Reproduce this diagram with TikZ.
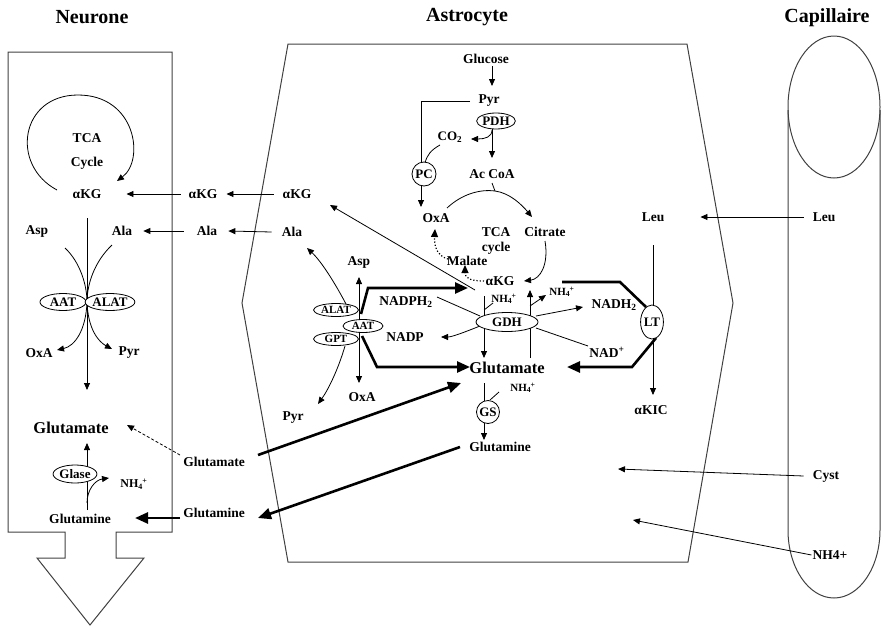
\documentclass[tikz,border=0pt]{standalone}
\usepackage{fontspec}
\setmainfont{Liberation Serif}
\usetikzlibrary{arrows.meta,shapes.geometric}
\newcommand{\nhf}{NH\textsubscript{4}\kern-0.5pt\textsuperscript{+}}
\begin{document}
\begin{tikzpicture}[x=1pt,y=-1pt,
 lab/.style={font=\fontsize{13.5}{15}\selectfont\bfseries, inner sep=1pt},
 big/.style={font=\fontsize{16.5}{18}\selectfont\bfseries, inner sep=1pt},
 ttl/.style={font=\fontsize{20}{24}\selectfont\bfseries, inner sep=1pt},
 sm/.style={font=\fontsize{11}{12}\selectfont\bfseries, inner sep=0pt},
 enz/.style={draw, ellipse, fill=white, inner sep=0pt, line width=0.8pt,
   font=\fontsize{13}{14}\selectfont\bfseries},
 enzs/.style={enz, font=\fontsize{11}{12}\selectfont\bfseries},
 ln/.style={line width=0.8pt},
 arr/.style={line width=0.8pt, -{Triangle[length=7pt,width=6pt]}},
 darr/.style={line width=0.8pt, {Triangle[length=7pt,width=6pt]}-{Triangle[length=7pt,width=6pt]}},
 dotarr/.style={line width=1.2pt, dotted, -{Triangle[length=8pt,width=7pt]}},
 thk/.style={line width=2.6pt, -{Triangle[length=13pt,width=11pt]}},
 thkl/.style={line width=2.6pt},
 wall/.style={line width=1pt, draw=black!75},
]
\useasboundingbox (0,0) rectangle (884,627);

% ---------- titles
\node[ttl] (tN) at (92,17) {Neurone};
\node[ttl] (tA) at (467,17) {Astrocyte};
\node[ttl] (tC) at (827,18) {Capillaire};

% ---------- compartments
\draw[wall] (65,532) -- (8,532) -- (8,52) -- (172,52) -- (172,532) -- (116,532)
  -- (116,558) -- (144,558) -- (90,625) -- (37,558) -- (65,558) -- cycle;
\draw[wall] (288,44) -- (687,44) -- (733,303) -- (688,562) -- (288,562) -- (242,303) -- cycle;
\draw[wall] (834,107) ellipse [x radius=46pt, y radius=71pt];
\draw[wall] (788,110) -- (788,530) arc[start angle=180, end angle=360, x radius=46pt, y radius=68pt] -- (880,110);

% ---------- neurone
\node[lab] (nTCA) at (87,138) {TCA};
\node[lab] (nCyc) at (87,163) {Cycle};
\node[lab] (nKG) at (87,194) {αKG};
\node[lab] (nAsp) at (37,231) {Asp};
\node[lab] (nAla) at (122,231) {Ala};
\node[lab] (nOxA) at (39,353) {OxA};
\node[lab] (nPyr) at (129,353) {Pyr};
\node[big] (nGlu) at (71,428) {Glutamate};
\node[lab] (nGln) at (80,519) {Glutamine};
\node[sm, font=\fontsize{12}{13}\selectfont\bfseries] (nNH) at (134,484) {\nhf};

\coordinate (cyA) at (57,190);
\coordinate (cyB) at (117,181);
\draw[arr] (cyA) .. controls (10,165) and (20,95) .. (78,95) .. controls (136,95) and (145,160) .. (cyB);

\coordinate (nj) at (87,302);
\coordinate (nAspC) at (65,248);
\coordinate (nAlaC) at (112,245);
\coordinate (nTop) at (87,218);
\coordinate (nBot) at (87,390);
\coordinate (nOxT) at (57,350);
\coordinate (nPyT) at (112,349);
\draw[arr] (nTop) -- (nBot);
\draw[ln] (nAspC) .. controls (80,262) and (87,285) .. (nj);
\draw[ln] (nAlaC) .. controls (94,262) and (87,285) .. (nj);
\draw[arr] (nj) .. controls (86,330) and (75,346) .. (nOxT);
\draw[arr] (nj) .. controls (88,330) and (99,342) .. (nPyT);
\node[enz, minimum width=46pt, minimum height=17pt] (aat) at (63,302) {AAT};
\node[enz, minimum width=46pt, minimum height=17pt] (alat) at (110,302) {ALAT};

\coordinate (gA) at (87,510);
\coordinate (gB) at (87,443);
\coordinate (gC) at (87,503);
\coordinate (gD) at (109,478);
\draw[arr] (gA) -- (gB);
\draw[arr] (gC) .. controls (87,490) and (95,480) .. (gD);
\node[enz, minimum width=40pt, minimum height=18pt] (glase) at (75,474) {Glase};

% ---------- between neurone and astrocyte
\node[lab] (mKG) at (203,194) {αKG};
\node[lab] (mAla) at (207,231) {Ala};
\node[lab] (mGlu) at (214,462) {Glutamate};
\node[lab] (mGln) at (214,513) {Glutamine};
\draw[arr] ([xshift=-7pt]mKG.west) -- ([xshift=24pt]nKG.east);
\draw[arr] ([xshift=-12pt]mAla.west) -- ([xshift=10pt]nAla.east);
\draw[arr, dashed, dash pattern=on 3pt off 2pt] (180,455) -- (127,425);
\draw[thk] (180,518) -- (135,518);

% ---------- astrocyte
\node[lab] (aKG2) at (297,194) {αKG};
\node[lab] (aAla) at (292,232) {Ala};
\draw[arr] ([xshift=-8pt]aKG2.west) -- ([xshift=8pt]mKG.east);
\draw[arr] ([xshift=-9pt]aAla.west) -- ([xshift=10pt]mAla.east);

\node[lab] (glc) at (486,59) {Glucose};
\node[lab] (pyr) at (489,101) {Pyr};
\node[sm, font=\fontsize{13}{14}\selectfont\bfseries] (co2) at (450,137) {CO\textsubscript{2}};
\node[lab] (acoa) at (492,174) {Ac CoA};
\node[lab] (oxa) at (436,218) {OxA};
\node[lab] (tca) at (496,232) {TCA};
\node[lab] (cyc) at (496,248) {cycle};
\node[lab] (cit) at (545,232) {Citrate};
\node[lab] (mal) at (467,261) {Malate};
\node[lab] (akg) at (500,281) {αKG};
\node[big] (glu) at (507,368) {Glutamate};
\node[lab] (gln) at (500,447) {Glutamine};
\node[lab] (nadph) at (406,302) {NADPH\textsubscript{2}};
\node[lab] (nadp) at (405,337) {NADP};
\node[lab] (nadh) at (614,305) {NADH\textsubscript{2}};
\node[lab] (nad) at (607,352) {NAD\textsuperscript{+}};
\node[sm] (nh1) at (504,299) {\nhf};
\node[sm] (nh2) at (562,292) {\nhf};
\node[sm] (nh3) at (523,388) {\nhf};
\node[lab] (asp2) at (359,262) {Asp};
\node[lab] (oxa2) at (362,397) {OxA};
\node[lab] (pyr2) at (293,418) {Pyr};
\node[lab] (leu) at (653,217) {Leu};
\node[lab] (akic) at (651,410) {αKIC};

% glycolysis / PDH / PC
\draw[arr] (492,66) -- (492,86);
\coordinate (pcL) at (421,101);
\draw[arr] (470,101) -- (pcL) -- (421,207);
\draw[arr] (492,127) -- (492,158);
\draw[arr] (492,130) .. controls (492,137) and (485,139) .. (471,139);
\draw[ln] (440,145) .. controls (431,150) and (427,155) .. (425,163);
\node[enz, minimum width=38pt, minimum height=16pt] (pdh) at (496,121) {PDH};
\node[enz, circle, minimum size=24pt] (pc) at (424,174) {PC};

% TCA
\coordinate (tj) at (495,191);
\draw[ln] (492,183) -- (tj);
\draw[arr] (447,208) .. controls (462,194) and (480,189) .. (tj) .. controls (510,193) and (522,205) .. (532,217);
\draw[arr] (545,241) .. controls (549,265) and (540,279) .. (524,281);
\draw[dotarr] (448,259) .. controls (437,256) and (434,246) .. (435,229);
\draw[dotarr] (484,281) .. controls (470,281) and (465,278) .. (465,265);
\draw[arr] (475,290) -- (330,205);

% left transaminases
\draw[darr] (359,277) -- (359,383);
\draw[arr] (346,304) .. controls (336,285) and (322,262) .. (307,248);
\draw[arr] (345,346) .. controls (338,370) and (328,390) .. (318,404);
\draw[thk] (361,314) -- (368,288) -- (468,288);
\draw[thk] (362,336) -- (377,367) -- (470,367);
\node[enzs, minimum width=45pt, minimum height=13pt] (alat2) at (336,310) {ALAT};
\node[enzs, minimum width=45pt, minimum height=13pt] (gpt) at (336,339) {GPT};
\node[enzs, minimum width=40pt, minimum height=13pt] (aat2) at (363,326) {AAT};

% GDH
\draw[arr] (484,296) -- (484,358);
\draw[ln] (484,310) -- (493,303);
\draw[arr] (530,358) -- (530,290);
\draw[arr] (530,306) -- (546,295);
\draw[ln] (437,297) -- (480,316);
\draw[arr] (480,326) .. controls (465,332) and (452,337) .. (441,337);
\draw[arr] (536,316) -- (583,307);
\draw[ln] (536,328) -- (588,346);
\node[enz, minimum width=62pt, minimum height=19pt] (gdh) at (507,322) {GDH};

% glutamine synthetase
\draw[ln] (484,383) -- (484,405);
\draw[arr] (484,420) -- (484,440);
\draw[ln] (490,400) -- (499,392);
\node[enz, circle, minimum size=23pt] (gs) at (488,412) {GS};

% leucine
\draw[arr] (653,245) -- (653,395);
\draw[thkl] (562,282) -- (620,282) -- (646,307);
\draw[thk] (656,338) -- (632,367) -- (567,367);
\node[enz, minimum width=20pt, minimum height=34pt] (lt) at (652,322) {LT};

% transport from neurone gap
\draw[thk] (258,455) -- (461,383);
\draw[thk] (460,447) -- (258,518);

% ---------- capillary
\node[lab] (cLeu) at (824,217) {Leu};
\node[lab] (cCys) at (826,476) {Cyst};
\node[lab] (cNH) at (830,555) {NH4+};
\draw[arr] ([xshift=-8pt]cLeu.west) -- ([xshift=35pt]leu.east);
\coordinate (cysT) at (618,469);
\coordinate (nhT) at (633,520);
\draw[arr] ([xshift=-8pt]cCys.west) -- (cysT);
\draw[arr] (cNH.west) -- (nhT);
\end{tikzpicture}
\end{document}
